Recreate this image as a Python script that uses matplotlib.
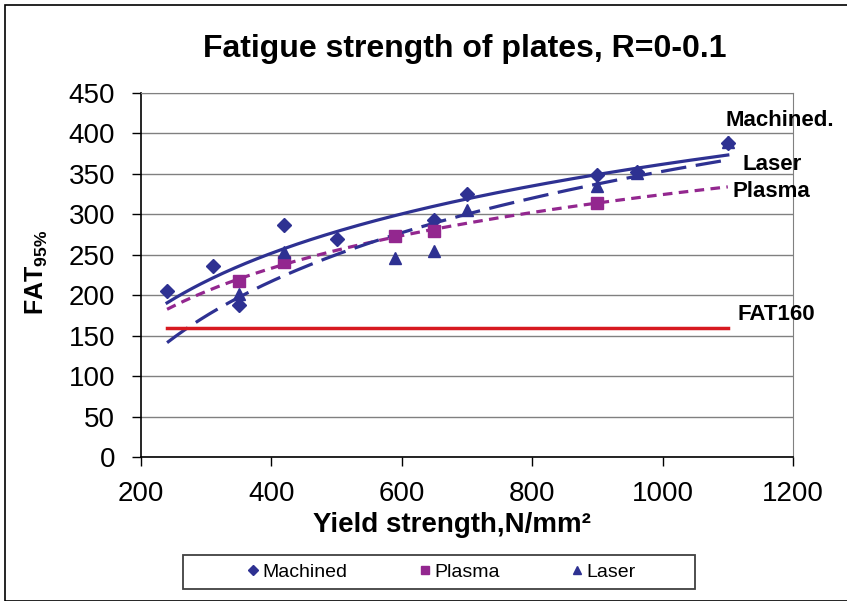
import numpy as np
import matplotlib.pyplot as plt
from matplotlib.patches import Rectangle

plt.rcParams['font.family'] = ['Liberation Sans', 'DejaVu Sans']
plt.rcParams['mathtext.fontset'] = 'custom'
plt.rcParams['mathtext.rm'] = 'Liberation Sans:bold'
plt.rcParams['mathtext.bf'] = 'Liberation Sans:bold'

# Data
machined_x = [240, 310, 350, 420, 500, 650, 700, 900, 960, 1100]
machined_y = [205, 236, 188, 287, 270, 293, 325, 349, 352, 388]
plasma_x = [350, 420, 590, 650, 900]
plasma_y = [218, 241, 273, 280, 314]
laser_x = [350, 420, 590, 650, 700, 900, 960, 1100]
laser_y = [202, 254, 246, 255, 305, 335, 351, 390]

trend_range = [240, 1100]
fat_level = 160

blue = '#2E3192'
purple = '#93278F'
red = '#D71920'

fig = plt.figure(figsize=(8.47, 6.01), dpi=100)
ax = fig.add_axes([141/847, 1-457/601, 652/847, 364/601])

# logarithmic trendlines (like Excel)
xt = np.linspace(trend_range[0], trend_range[1], 200)
def log_trend(x, y):
    k, c = np.polyfit(np.log(x), y, 1)
    return k*np.log(xt) + c

ax.plot(xt, log_trend(machined_x, machined_y), color=blue, lw=2.3, zorder=3)
ax.plot(xt, log_trend(plasma_x, plasma_y), color=purple, lw=2.3,
        dashes=(3, 2), zorder=3)
ax.plot(xt, log_trend(laser_x, laser_y), color=blue, lw=2.3,
        dashes=(8, 3), zorder=3)
ax.plot(trend_range, [fat_level, fat_level], color=red, lw=2.5, zorder=3)

ax.plot(machined_x, machined_y, 'D', color=blue, ms=7, ls='none',
        label='Machined', zorder=4)
ax.plot(plasma_x, plasma_y, 's', color=purple, ms=8, ls='none',
        label='Plasma', zorder=4)
ax.plot(laser_x, laser_y, '^', color=blue, ms=8, ls='none',
        label='Laser', zorder=4)

ax.set_xlim(200, 1200)
ax.set_ylim(0, 450)
ax.set_xticks(range(200, 1201, 200))
ax.set_yticks(range(0, 451, 50))
ax.tick_params(labelsize=20, length=6.5, width=1, color='black')
ax.tick_params(axis='y', pad=12)
ax.tick_params(axis='x', pad=11)
ax.yaxis.grid(True, color='#808080', lw=1)
ax.set_axisbelow(True)
for s in ['top', 'right']:
    ax.spines[s].set_color('#808080')
ax.spines['left'].set_linewidth(1.2)
ax.spines['bottom'].set_linewidth(1.2)

fig.text(452/847, 1-525/601, 'Yield strength,N/mm²', ha='center',
         va='center', fontsize=20, fontweight='bold')
fig.text(37/847, 1-272/601, r'FAT$_{95\%}$', ha='center', va='center',
         rotation=90, fontsize=18, fontweight='bold')
fig.text(465/847, 1-49/601, 'Fatigue strength of plates, R=0-0.1',
         ha='center', va='center', fontsize=23, fontweight='bold')

fig.text(725/847, 1-120/601, 'Machined.', fontsize=16, fontweight='bold',
         va='center')
fig.text(742/847, 1-164/601, 'Laser', fontsize=16, fontweight='bold',
         va='center')
fig.text(732/847, 1-192/601, 'Plasma', fontsize=16, fontweight='bold',
         va='center')
fig.text(737/847, 1-314/601, 'FAT160', fontsize=16, fontweight='bold',
         va='center')

leg = ax.legend(loc='center', ncol=3, fontsize=14, frameon=False,
                bbox_to_anchor=(441/847, 1-572/601),
                bbox_transform=fig.transFigure, handletextpad=0.15,
                handlelength=0.7, columnspacing=3.6, markerscale=0.8)

fig.patches.append(Rectangle((183/847, 1-589/601), 512/847, 34/601,
                             transform=fig.transFigure, fill=False,
                             edgecolor='#404040', lw=1.3))
fig.patches.append(Rectangle((5/847, 0), 1, 1-5/601, transform=fig.transFigure,
                             fill=False, edgecolor='black', lw=1.2))

fig.savefig('out.png', dpi=100)
